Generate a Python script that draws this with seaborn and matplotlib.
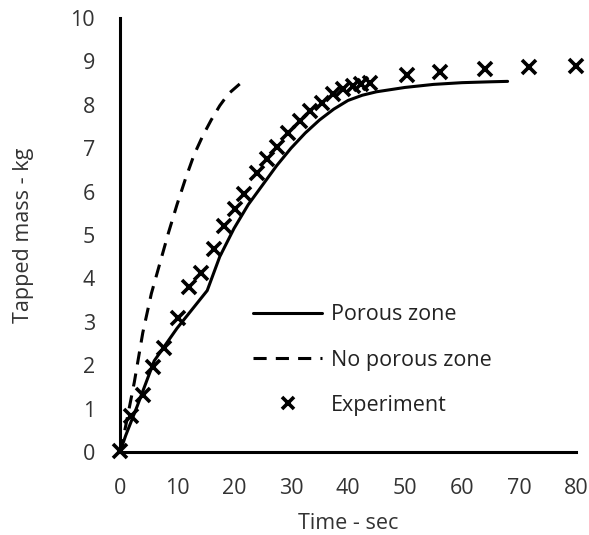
import matplotlib
matplotlib.use("Agg")
import matplotlib.pyplot as plt
import seaborn as sns
import pandas as pd

# Porous zone simulation (solid line)
porous_time = [0, 1, 3, 6, 10, 15.3, 17.5, 20, 22.5, 25, 27.5, 30, 32.5, 35,
               37.5, 40, 42.5, 45, 50, 55, 60, 65, 68]
porous_mass = [0, 0.38, 1.05, 2.1, 2.85, 3.72, 4.5, 5.15, 5.7, 6.15, 6.6, 7.0,
               7.35, 7.65, 7.9, 8.1, 8.22, 8.3, 8.4, 8.47, 8.51, 8.53, 8.54]

# No porous zone simulation (dashed line)
noporous_time = [0, 1, 2.5, 4, 5.5, 7, 8.5, 10, 11.5, 13, 14.5, 16, 17.5, 19, 21]
noporous_mass = [0, 0.6, 1.6, 2.75, 3.65, 4.35, 5.05, 5.7, 6.3, 6.85, 7.28,
                 7.65, 7.98, 8.25, 8.48]

# Experiment (x markers)
exp_time = [0, 1.9, 4.1, 5.8, 7.7, 10.2, 12.1, 14.2, 16.5, 18.3, 20.2, 21.8,
            24.0, 25.8, 27.6, 29.5, 31.5, 33.3, 35.4, 37.4, 39.2, 40.8, 42.2,
            43.9, 50.3, 56.1, 64.0, 71.8, 80.0]
exp_mass = [0.03, 0.84, 1.31, 1.97, 2.39, 3.08, 3.81, 4.13, 4.67, 5.2, 5.61,
            5.95, 6.42, 6.75, 7.02, 7.36, 7.62, 7.86, 8.05, 8.24, 8.36, 8.44,
            8.48, 8.5, 8.69, 8.76, 8.82, 8.86, 8.9]

sns.set_style("white")
plt.rcParams["font.family"] = ["Open Sans", "DejaVu Sans"]

FS = 15.5
TXT = "#333333"

df_porous = pd.DataFrame({"t": porous_time, "m": porous_mass})
df_noporous = pd.DataFrame({"t": noporous_time, "m": noporous_mass})

fig = plt.figure(figsize=(5.89, 5.35), dpi=100)
ax = fig.add_axes([120 / 589, 83 / 535, 456 / 589, 434 / 535])

sns.lineplot(data=df_porous, x="t", y="m", ax=ax, color="black", lw=2.2,
             label="Porous zone", sort=False)
sns.lineplot(data=df_noporous, x="t", y="m", ax=ax, color="black", lw=2.2,
             linestyle=(0, (4.3, 3.0)), label="No porous zone", sort=False)
ax.plot(exp_time, exp_mass, linestyle="none", marker="x", markersize=10,
        markeredgewidth=2.6, color="black", label="Experiment", clip_on=False,
        zorder=5)

ax.set_xlim(0, 80)
ax.set_ylim(0, 10)
ax.set_xticks(range(0, 81, 10))
ax.set_yticks(range(0, 11, 1))

for s in ["top", "right"]:
    ax.spines[s].set_visible(False)
for s in ["left", "bottom"]:
    ax.spines[s].set_linewidth(2.2)
    ax.spines[s].set_color("black")

ax.tick_params(axis="both", direction="in", length=7, width=2.2,
               labelsize=FS, colors="black", labelcolor=TXT)
ax.tick_params(axis="x", pad=19)
ax.tick_params(axis="y", pad=18)

ax.set_xlabel("Time - sec", fontsize=FS, color=TXT, labelpad=10)
ax.set_ylabel("Tapped mass - kg", fontsize=FS, color=TXT, labelpad=26)

leg = ax.legend(loc="upper left", bbox_to_anchor=(0.292, 0.340),
                frameon=False, fontsize=FS, handlelength=3.2,
                handletextpad=0.42, labelspacing=1.12, borderpad=0,
                borderaxespad=0, labelcolor="#222222")
for line in leg.get_lines():
    line.set_linewidth(2.2)
    line.set_markersize(8)

fig.savefig("out.png", dpi=100)
